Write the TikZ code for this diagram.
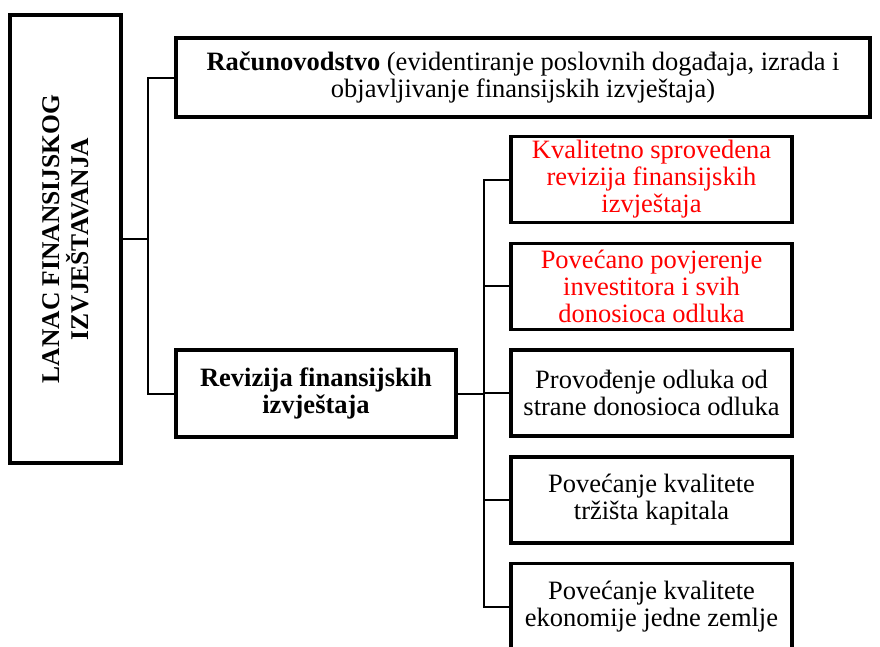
\documentclass[tikz,border=0pt]{standalone}
\usepackage{fontspec}
\setmainfont{Liberation Serif}
\usetikzlibrary{positioning}

\tikzset{
  box/.style={draw, line width=3.5pt, align=center, inner sep=2pt,
    font=\fontsize{26.5}{27}\selectfont},
  stepbox/.style={box, minimum width=281pt, minimum height=86pt},
  link/.style={line width=2pt}
}

\begin{document}
\begin{tikzpicture}[x=1pt,y=-1pt]
  \useasboundingbox (0,0) rectangle (880,646);

  \node[box, minimum width=111pt, minimum height=448pt] (lanac) at (65.5,239) {};
  \node[rotate=90, align=center, font=\fontsize{25.5}{29}\selectfont\bfseries]
    (lanactxt) at (lanac.center) {LANAC FINANSIJSKOG\\IZVJEŠTAVANJA};

  \node[box, minimum width=694pt, minimum height=79pt] (racun) at (523,77.5)
    {\textbf{Računovodstvo} (evidentiranje poslovnih događaja, izrada i\\objavljivanje finansijskih izvještaja)};
  \node[box, minimum width=280pt, minimum height=87pt] (reviz) at (316,393.5)
    {\bfseries Revizija finansijskih\\\bfseries izvještaja};

  \node[stepbox, text=red] (k1) at (651.5,179.5) {Kvalitetno sprovedena\\revizija finansijskih\\izvještaja};
  \node[stepbox, text=red, below=17.25pt of k1] (k2) {Povećano povjerenje\\investitora i svih\\donosioca odluka};
  \node[stepbox, below=17.25pt of k2] (k3) {Provođenje odluka od\\strane donosioca odluka};
  \node[stepbox, below=17.25pt of k3] (k4) {Povećanje kvalitete\\tržišta kapitala};
  \node[stepbox, below=17.25pt of k4] (k5) {Povećanje kvalitete\\ekonomije jedne zemlje};

  \coordinate (bus1) at (148,239);
  \coordinate (bus2) at (484,393.5);

  \draw[link] (lanac.east) -- (bus1);
  \draw[link] (racun.west) -| (bus1) |- (reviz.west);
  \draw[link] (reviz.east) -- (bus2);
  \foreach \n in {k1,k2,k3,k4,k5}
    \draw[link] (bus2) |- (\n.west);
\end{tikzpicture}
\end{document}
